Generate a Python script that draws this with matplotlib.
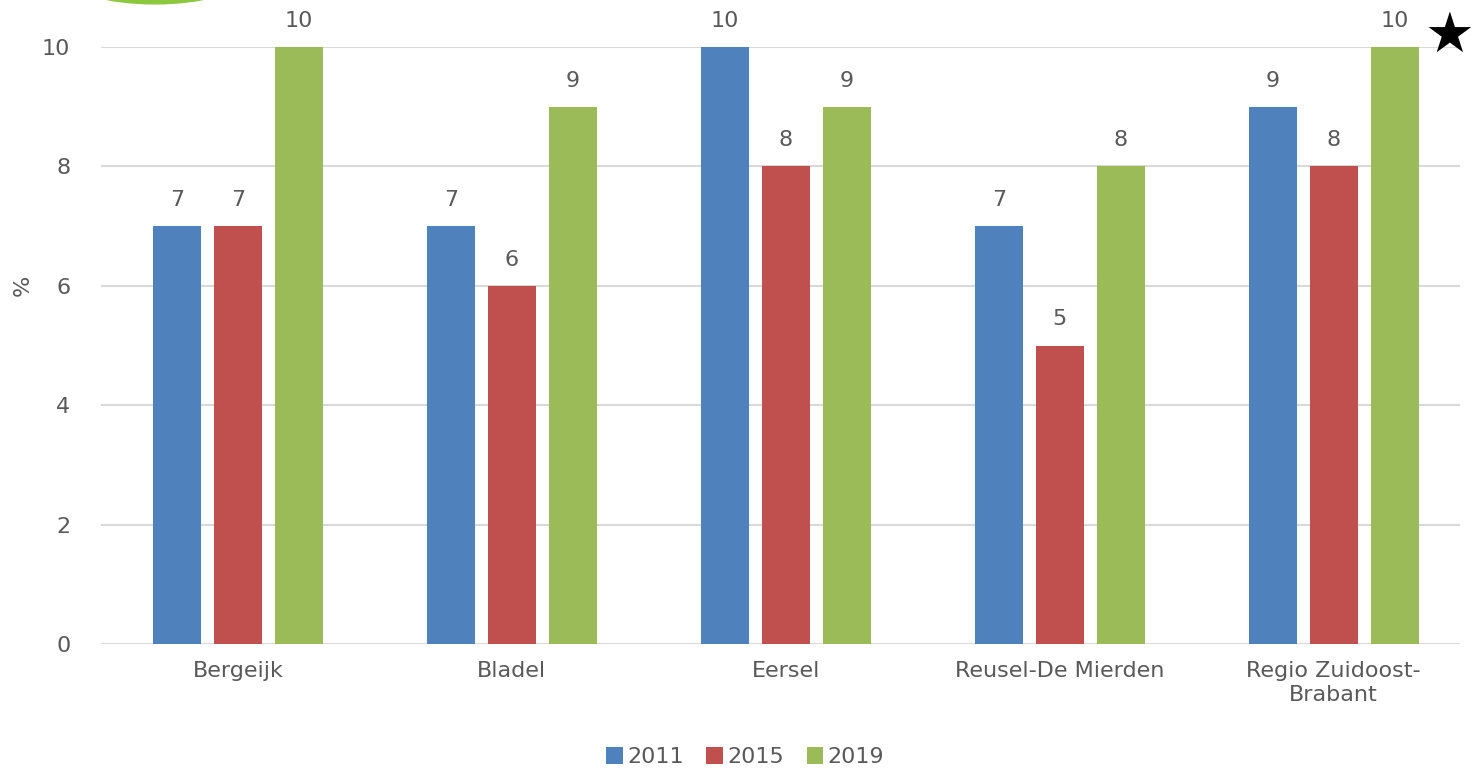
import matplotlib
matplotlib.use('Agg')
import matplotlib.pyplot as plt
from matplotlib.patches import Ellipse
import numpy as np

plt.rcParams['font.family'] = 'DejaVu Sans'

categories = ["Bergeijk", "Bladel", "Eersel", "Reusel-De Mierden", "Regio Zuidoost-\nBrabant"]
years = ["2011", "2015", "2019"]
v2011 = [7, 7, 10, 7, 9]
v2015 = [7, 6, 8, 5, 8]
v2019 = [10, 9, 9, 8, 10]
colors = ["#4F81BD", "#C0504D", "#9BBB59"]
txt = "#595959"

fig = plt.figure(figsize=(14.76, 7.71), dpi=100)
ax = fig.add_axes([0.0684, 0.1647, 0.9206, 0.7743])

x = np.arange(len(categories))
w = 0.175
step = 0.223
for i, (vals, yr) in enumerate(zip([v2011, v2015, v2019], years)):
    bars = ax.bar(x + (i - 1) * step, vals, w, color=colors[i], label=yr, zorder=3)
    for b, v in zip(bars, vals):
        ax.text(b.get_x() + b.get_width() / 2, v + 0.27, str(v), ha='center', va='bottom',
                fontsize=16, color=txt)

ax.set_xlim(-0.5, 4.46)
ax.set_ylim(0, 10)
ax.set_yticks(range(0, 11, 2))
ax.yaxis.grid(True, color='#D9D9D9', linewidth=1.5, zorder=0)
ax.set_axisbelow(True)
for s in ax.spines.values():
    s.set_visible(False)
ax.tick_params(length=0, labelsize=16, labelcolor=txt)
ax.tick_params(axis='y', pad=22)
ax.tick_params(axis='x', pad=12)
ax.set_xticks(x)
ax.set_xticklabels(categories, linespacing=1.3)
ax.set_ylabel("%", fontsize=16, color=txt)
ax.yaxis.set_label_coords(-0.05, 0.6)

leg = fig.legend(loc='center', bbox_to_anchor=(0.505, 0.018), ncol=3, frameon=False,
                 fontsize=16, handlelength=0.75, handleheight=0.75, handletextpad=0.2,
                 columnspacing=1.0)
for t in leg.get_texts():
    t.set_color(txt)

# star in top-right corner
fig.text(0.982, 0.952, "\u2605", fontsize=40, ha='center', va='center', color='black')

# cropped green logo at top-left
logo = Ellipse((0.105, 1.03), 0.12, 0.07, transform=fig.transFigure, color='#8DC63F', zorder=0)
fig.patches.append(logo)

fig.savefig("out.png", dpi=100)
